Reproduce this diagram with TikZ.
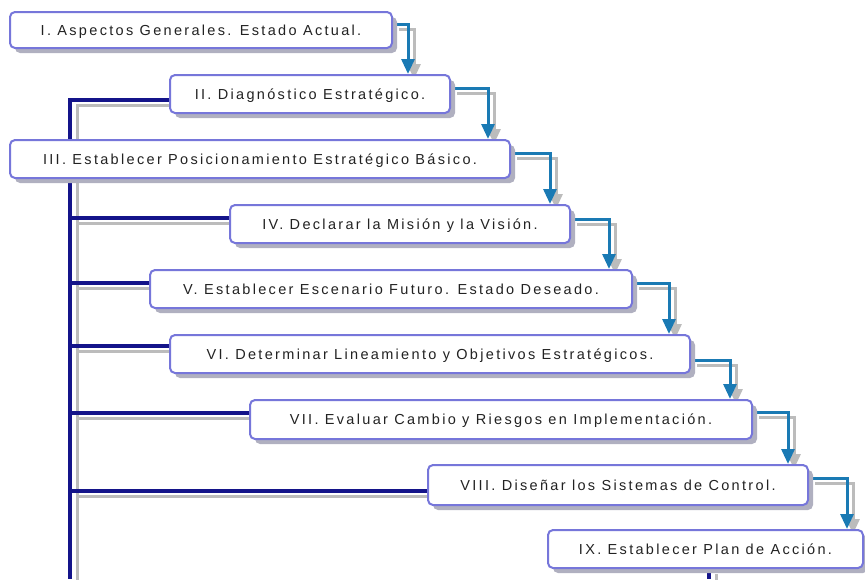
\documentclass[tikz,border=0pt]{standalone}
\usepackage{fontspec}
\newfontfamily\boxfont[LetterSpace=16]{Liberation Sans}
\usepackage{tikz}
\usetikzlibrary{arrows.meta, shadows, backgrounds}
\definecolor{boxline}{HTML}{7676DA}
\definecolor{boxshadow}{HTML}{B0B0C0}
\definecolor{flowblue}{HTML}{1A7AB4}
\definecolor{trunkblue}{HTML}{14148A}
\definecolor{lineshadow}{HTML}{BCBCBC}
\definecolor{textgray}{HTML}{222222}

\begin{document}
\begin{tikzpicture}[x=1pt, y=-1pt,
	etapa/.style={draw=boxline, line width=2pt, rounded corners=5pt, fill=white, text=textgray,
		font=\boxfont\fontsize{14.5}{16}\selectfont, inner sep=0pt, text depth=0pt,
		drop shadow={shadow xshift=5pt, shadow yshift=-5pt, fill=boxshadow, opacity=1}},
	flujo/.style={draw=flowblue, line width=3pt, -{Triangle[length=15pt, width=13pt]},
		preaction={draw=lineshadow, line width=3pt, -{Triangle[length=15pt, width=13pt]},
			transform canvas={xshift=6pt, yshift=-5pt}}},
	eje/.style={draw=trunkblue, line width=3.2pt,
		preaction={draw=lineshadow, line width=3pt, transform canvas={xshift=7pt, yshift=-5pt}}}]
	\useasboundingbox (0,0) rectangle (865,579);

	\node[etapa, minimum width=382pt, minimum height=36pt] (b1) at (201,30) {I. Aspectos Generales. Estado Actual.};
	\node[etapa, minimum width=280pt, minimum height=38pt] (b2) at (310,94) {II. Diagnóstico Estratégico.};
	\node[etapa, minimum width=500pt, minimum height=38pt] (b3) at (260,159) {III. Establecer Posicionamiento Estratégico Básico.};
	\node[etapa, minimum width=340pt, minimum height=38pt] (b4) at (400,224) {IV. Declarar la Misión y la Visión.};
	\node[etapa, minimum width=482pt, minimum height=38pt] (b5) at (391,289) {V. Establecer Escenario Futuro. Estado Deseado.};
	\node[etapa, minimum width=520pt, minimum height=38pt] (b6) at (430,354) {VI. Determinar Lineamiento y Objetivos Estratégicos.};
	\node[etapa, minimum width=502pt, minimum height=39pt] (b7) at (501,419.5) {VII. Evaluar Cambio y Riesgos en Implementación.};
	\node[etapa, minimum width=380pt, minimum height=40pt] (b8) at (618,485) {VIII. Diseñar los Sistemas de Control.};
	\node[etapa, minimum width=315pt, minimum height=38pt] (b9) at (705.5,549) {IX. Establecer Plan de Acción.};

	\coordinate (tope) at (70,100);
	\coordinate (pie) at (70,579);
	\coordinate (r4) at (70,218);
	\coordinate (r5) at (70,283);
	\coordinate (r6) at (70,346);
	\coordinate (r7) at (70,413);
	\coordinate (r8) at (70,491);
	\coordinate (fin) at (709,579);

	\begin{pgfonlayer}{background}
	\draw[eje] (b2.west |- tope) -- (tope) -- (pie);
	\draw[eje] (r4) -- (b4.west |- r4);
	\draw[eje] (r5) -- (b5.west |- r5);
	\draw[eje] (r6) -- (b6.west |- r6);
	\draw[eje] (r7) -- (b7.west |- r7);
	\draw[eje] (r8) -- (b8.west |- r8);
	\draw[eje] (b9.south -| fin) -- (fin);

	\draw[flujo] (b1.east |- 0,24) -| (b2.north -| 408,0);
	\draw[flujo] (b2.east |- 0,88) -| (b3.north -| 488,0);
	\draw[flujo] (b3.east |- 0,153) -| (b4.north -| 550,0);
	\draw[flujo] (b4.east |- 0,219) -| (b5.north -| 609,0);
	\draw[flujo] (b5.east |- 0,283) -| (b6.north -| 669,0);
	\draw[flujo] (b6.east |- 0,360) -| (b7.north -| 730,0);
	\draw[flujo] (b7.east |- 0,412) -| (b8.north -| 788,0);
	\draw[flujo] (b8.east |- 0,478) -| (b9.north -| 847,0);
	\end{pgfonlayer}
\end{tikzpicture}
\end{document}
